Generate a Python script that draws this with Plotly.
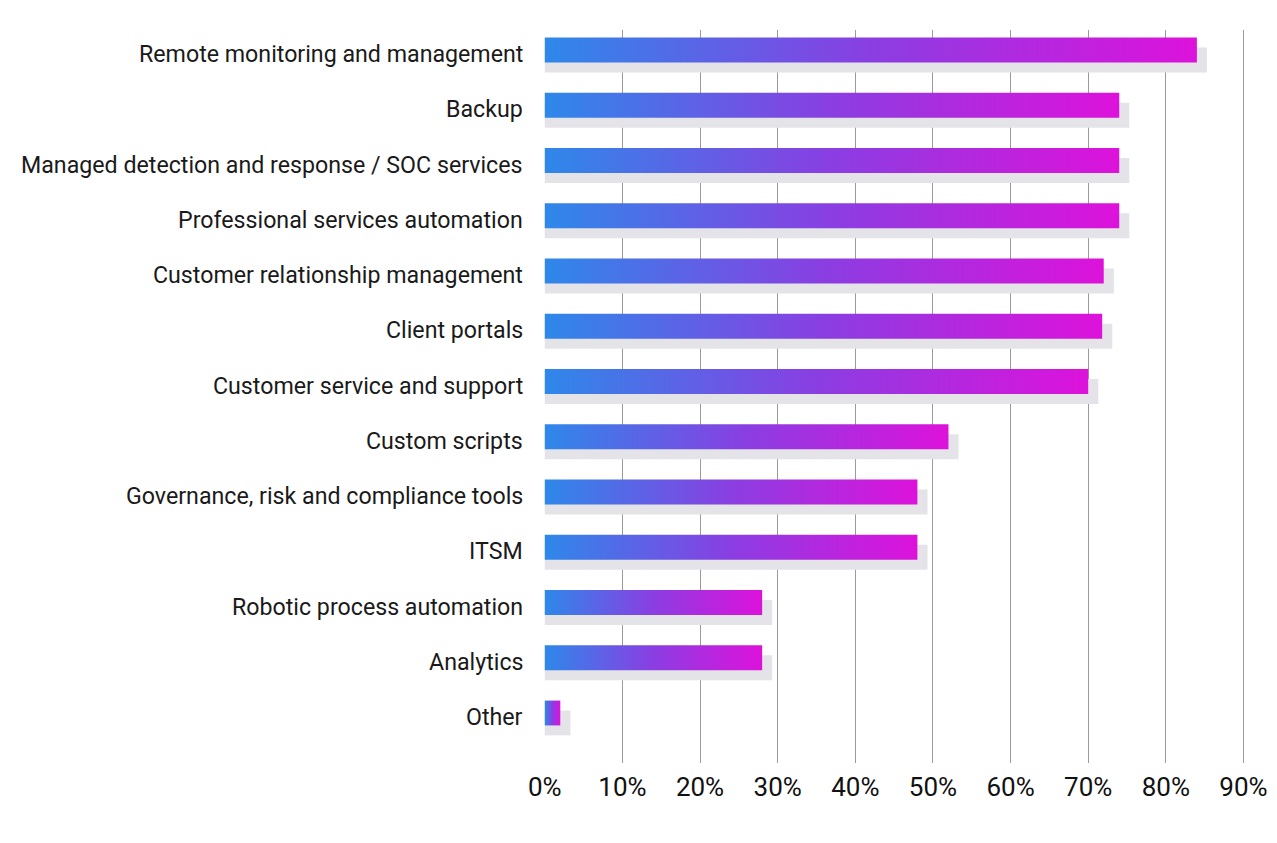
import plotly.graph_objects as go

categories = [
    "Remote monitoring and management",
    "Backup",
    "Managed detection and response / SOC services",
    "Professional services automation",
    "Customer relationship management",
    "Client portals",
    "Customer service and support",
    "Custom scripts",
    "Governance, risk and compliance tools",
    "ITSM",
    "Robotic process automation",
    "Analytics",
    "Other",
]
values = [84, 74, 74, 74, 72, 71.8, 70, 52, 48, 48, 28, 28, 2]
tick_values = list(range(0, 100, 10))
tick_labels = [f"{t}%" for t in tick_values]

BAR_H = 0.45
SHADOW_DX = 1.3
SHADOW_DY = 0.18

fig = go.Figure()

# gray shadows first, offset down/right
for i, v in enumerate(values):
    y0, y1 = i - BAR_H / 2 + SHADOW_DY, i + BAR_H / 2 + SHADOW_DY
    fig.add_trace(go.Scatter(
        x=[0, v + SHADOW_DX, v + SHADOW_DX, 0, 0],
        y=[y0, y0, y1, y1, y0],
        mode="lines", fill="toself",
        fillcolor="#e4e3e7", line=dict(width=0),
        hoverinfo="skip", showlegend=False,
    ))

# gradient bars
for i, (cat, v) in enumerate(zip(categories, values)):
    y0, y1 = i - BAR_H / 2, i + BAR_H / 2
    fig.add_trace(go.Scatter(
        x=[0, v, v, 0, 0],
        y=[y0, y0, y1, y1, y0],
        mode="lines", fill="toself",
        fillgradient=dict(type="horizontal",
                          colorscale=[[0, "#2e88ea"], [0.5, "#8a3ee2"], [1, "#dd12db"]]),
        line=dict(width=0),
        name=cat, hoverinfo="skip", showlegend=False,
    ))

# category labels (slightly below bar centre, like the original)
for i, cat in enumerate(categories):
    fig.add_annotation(
        xref="paper", x=0, xanchor="right", xshift=-19,
        yref="y", y=i, yshift=-4, yanchor="middle",
        text=cat, showarrow=False,
        font=dict(size=23.2, color="#1a1a1a"),
    )

fig.update_layout(
    width=1277, height=843,
    margin=dict(l=536, r=26, t=22, b=88),
    paper_bgcolor="white", plot_bgcolor="white",
    font=dict(family="Roboto", color="#1a1a1a"),
    xaxis=dict(
        range=[-0.1, 92], tickvals=tick_values, ticktext=tick_labels,
        showgrid=True, gridcolor="#9a9a9a", gridwidth=1,
        zeroline=False, showline=False,
        tickfont=dict(size=26, color="#111111"),
        ticklabelstandoff=6, fixedrange=True,
    ),
    yaxis=dict(
        range=[12.905, -0.362], showticklabels=False,
        showgrid=False, zeroline=False, showline=False, fixedrange=True,
    ),
)

fig.write_html("out.html")
